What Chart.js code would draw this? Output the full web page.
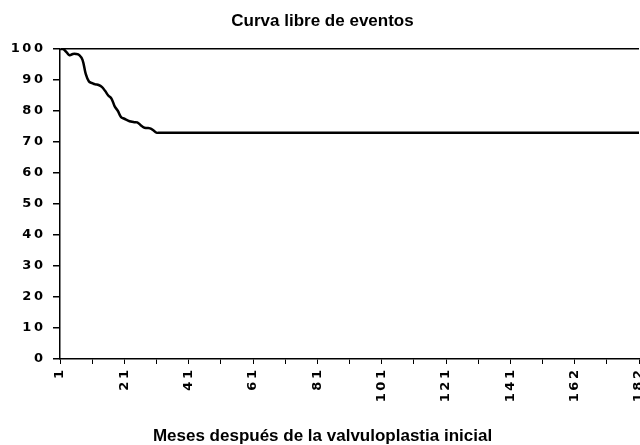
<!DOCTYPE html>
<html>
<head>
<meta charset="utf-8">
<script src="https://cdn.jsdelivr.net/npm/chart.js@4"></script>
<style>
  html, body { margin: 0; padding: 0; background: #fff; }
  #wrap { width: 640px; height: 445px; }
</style>
</head>
<body>
<div id="wrap"><canvas id="km-chart"></canvas></div>
<script>
// meses (one month is missing between 141 and 162 in the original sheet)
var meses = [
    1, 2, 3, 4, 5, 6, 7, 8, 9, 10, 11, 12, 13, 14, 15, 16, 17, 18, 19, 20,
    21, 22, 23, 24, 25, 26, 27, 28, 29, 30, 31, 32, 33, 34, 35, 36, 37, 38, 39, 40,
    41, 42, 43, 44, 45, 46, 47, 48, 49, 50, 51, 52, 53, 54, 55, 56, 57, 58, 59, 60,
    61, 62, 63, 64, 65, 66, 67, 68, 69, 70, 71, 72, 73, 74, 75, 76, 77, 78, 79, 80,
    81, 82, 83, 84, 85, 86, 87, 88, 89, 90, 91, 92, 93, 94, 95, 96, 97, 98, 99, 100,
    101, 102, 103, 104, 105, 106, 107, 108, 109, 110, 111, 112, 113, 114, 115, 116, 117, 118, 119, 120,
    121, 122, 123, 124, 125, 126, 127, 128, 129, 130, 131, 132, 133, 134, 135, 136, 137, 138, 139, 140,
    141, 142, 143, 144, 145, 146, 147, 148, 149, 151, 152, 153, 154, 155, 156, 157, 158, 159, 160, 161,
    162, 163, 164, 165, 166, 167, 168, 169, 170, 171, 172, 173, 174, 175, 176, 177, 178, 179, 180, 181,
    182
];
// % libre de eventos
var libreEventos = [
    100, 100, 99, 98, 98.4, 98.4, 98, 96.5, 92, 89.5,
    89, 88.6, 88.4, 87.8, 86.5, 85, 84, 81.5, 80, 78,
    77.5, 77, 76.6, 76.4, 76.3, 75.5, 74.7, 74.5, 74.4, 73.8,
    73, 73, 73, 73, 73, 73, 73, 73, 73, 73,
    73, 73, 73, 73, 73, 73, 73, 73, 73, 73,
    73, 73, 73, 73, 73, 73, 73, 73, 73, 73,
    73, 73, 73, 73, 73, 73, 73, 73, 73, 73,
    73, 73, 73, 73, 73, 73, 73, 73, 73, 73,
    73, 73, 73, 73, 73, 73, 73, 73, 73, 73,
    73, 73, 73, 73, 73, 73, 73, 73, 73, 73,
    73, 73, 73, 73, 73, 73, 73, 73, 73, 73,
    73, 73, 73, 73, 73, 73, 73, 73, 73, 73,
    73, 73, 73, 73, 73, 73, 73, 73, 73, 73,
    73, 73, 73, 73, 73, 73, 73, 73, 73, 73,
    73, 73, 73, 73, 73, 73, 73, 73, 73, 73,
    73, 73, 73, 73, 73, 73, 73, 73, 73, 73,
    73, 73, 73, 73, 73, 73, 73, 73, 73, 73,
    73, 73, 73, 73, 73, 73, 73, 73, 73, 73,
    73
];
var yTicks = [0, 10, 20, 30, 40, 50, 60, 70, 80, 90, 100];

var tickFont = { family: "'DejaVu Sans', sans-serif", size: 13, weight: 'bold' };
var titleFont = { family: "'Liberation Sans', Arial, sans-serif", size: 17, weight: 'bold', lineHeight: 1 };
var clear = 'rgba(0,0,0,0)';

// old excel look: digits spread apart
function spaced(s) {
    return String(s).split('').join('\u2009');
}

const ctx = document.getElementById('km-chart').getContext('2d');
var kmChart = new Chart(ctx, {
    type: 'line',
    data: {
        labels: meses,
        datasets: [{
            label: 'Libre de eventos',
            data: libreEventos,
            borderColor: '#000',
            borderWidth: 2.5,
            pointRadius: 0,
            fill: false,
            tension: 0.4
        }]
    },
    options: {
        responsive: true,
        maintainAspectRatio: false,
        animation: false,
        layout: {
            padding: { left: 6, right: 1, top: 0, bottom: 0 }
        },
        plugins: {
            legend: { display: false },
            tooltip: { enabled: false },
            title: {
                display: true,
                text: 'Curva libre de eventos',
                color: '#000',
                font: titleFont,
                padding: { top: 13, bottom: 19 }
            },
            // x axis title, centred on the whole picture like the excel original
            subtitle: {
                display: true,
                position: 'bottom',
                text: 'Meses después de la valvuloplastia inicial',
                color: '#000',
                font: titleFont,
                padding: { top: 4, bottom: 0 }
            }
        },
        scales: {
            x: {
                offset: false,
                border: { color: '#000', width: 1.5 },
                grid: {
                    color: clear,
                    tickLength: 5,
                    tickWidth: 1,
                    tickColor: function (c) {
                        return c.index % 10 == 0 ? '#000' : clear;
                    }
                },
                ticks: {
                    autoSkip: false,
                    minRotation: 90,
                    maxRotation: 90,
                    padding: 6,
                    color: '#000',
                    font: tickFont,
                    callback: function (value, index) {
                        return index % 20 == 0 ? spaced(this.getLabelForValue(value)) : '';
                    }
                },
                afterFit: function (scale) {
                    scale.height = 65;
                    scale.paddingRight = 0;
                    scale.paddingLeft = 0;
                }
            },
            y: {
                min: 0,
                max: 100,
                border: { color: '#000', width: 1.5 },
                grid: {
                    tickLength: 7,
                    tickColor: '#000',
                    lineWidth: 1.5,
                    color: function (c) {
                        return c.tick && c.tick.value == 100 ? '#000' : clear;
                    }
                },
                afterBuildTicks: function (scale) {
                    scale.ticks = yTicks.map(function (v) { return { value: v }; });
                },
                ticks: {
                    padding: 10,
                    color: '#000',
                    font: tickFont,
                    callback: function (value) {
                        return spaced(value);
                    }
                },
                afterFit: function (scale) {
                    scale.width = 54;
                }
            }
        }
    }
});
</script>
</body>
</html>
